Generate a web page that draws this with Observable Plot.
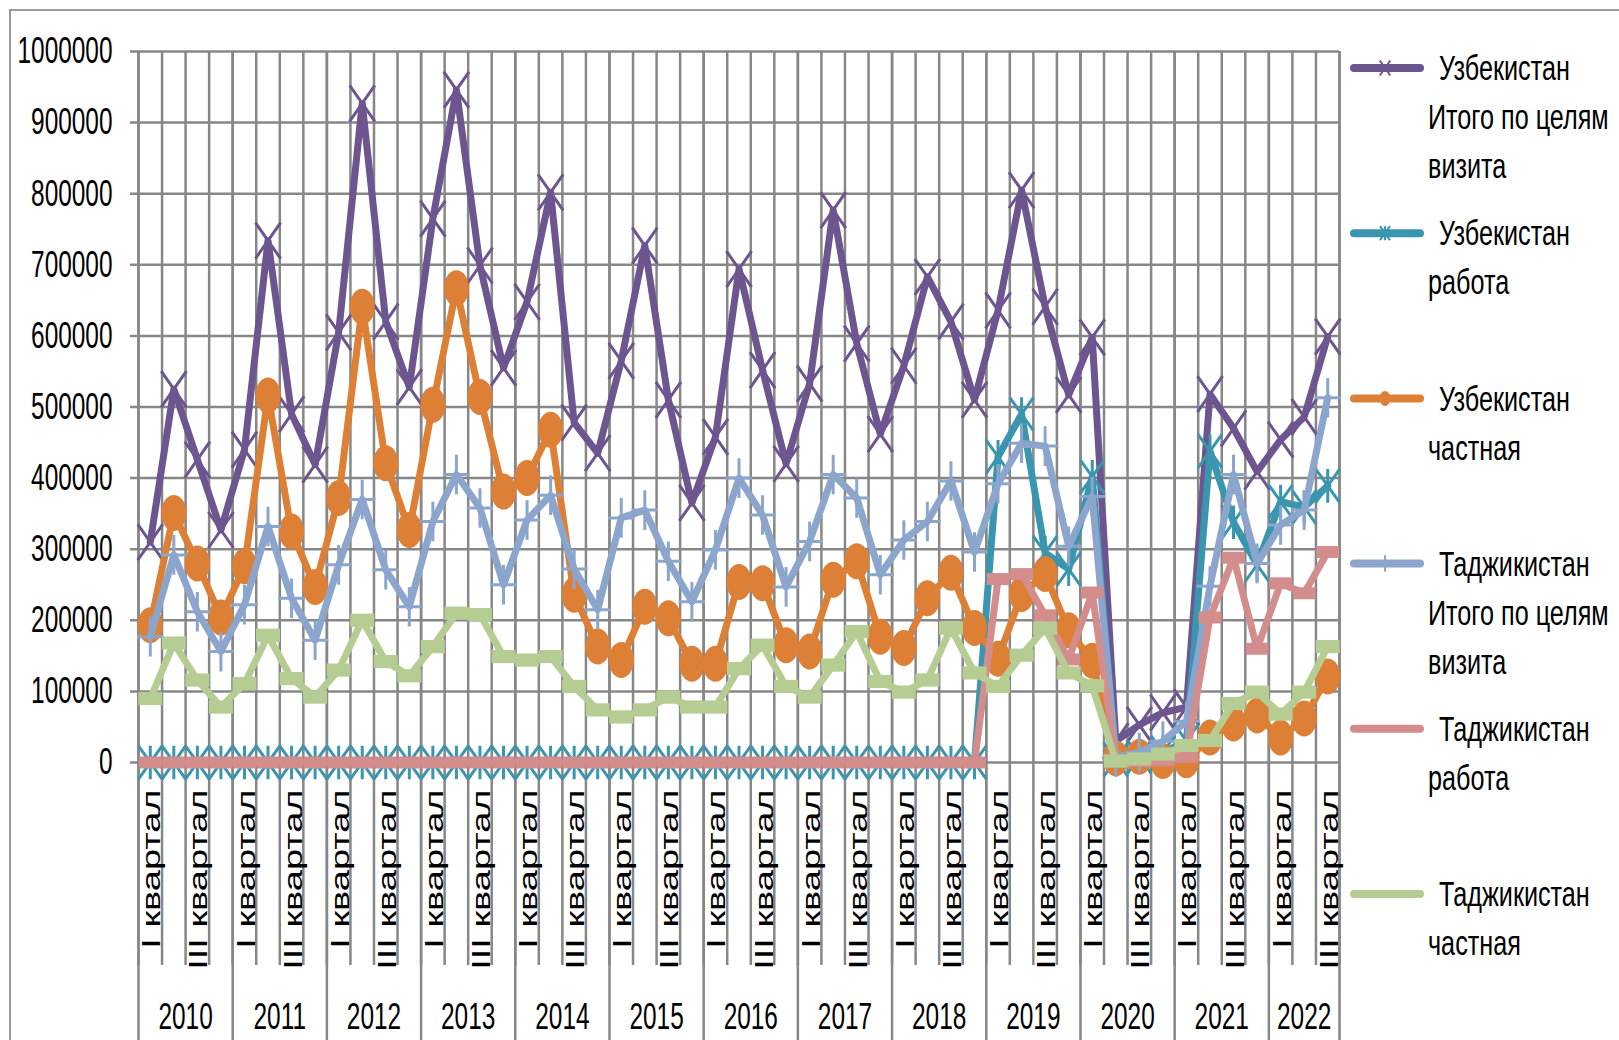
<!DOCTYPE html>
<html><head><meta charset="utf-8">
<script src="https://cdn.jsdelivr.net/npm/d3@7"></script>
<script src="https://cdn.jsdelivr.net/npm/@observablehq/plot@0.6"></script>
<style>
html,body{margin:0;padding:0;background:#fff;}
#wrap{position:relative;width:1619px;height:1040px;overflow:hidden;background:#fff;}
#border{position:absolute;left:9px;top:9px;width:1700px;height:1100px;border-left:2px solid #9a9a9a;border-top:2px solid #9a9a9a;}
#chart{position:absolute;left:0;top:0;}
</style></head><body>
<div id="wrap"><div id="border"></div><div id="chart"></div></div>
<script>
// ---------- data ----------
const years = [2010, 2011, 2012, 2013, 2014, 2015, 2016, 2017, 2018, 2019, 2020, 2021, 2022];
const quarterNames = ["I квартал", "II квартал", "III квартал", "IV квартал"];
const labeledQuarters = ["I квартал", "III квартал"];
const quarterCount = 51; // 2010 Q1 .. 2022 Q3
const yTicks = [0, 100000, 200000, 300000, 400000, 500000, 600000, 700000, 800000, 900000, 1000000];

// values in thousands of people, one per quarter
const uzbTotal = [310, 525, 426, 327, 440, 734, 490, 419, 605, 927,
  620, 528, 765, 946, 699, 555, 648, 802, 478, 435,
  565, 727, 510, 365, 458, 694, 552, 420, 533, 777,
  589, 462, 558, 683, 620, 510, 636, 805, 641, 517,
  598, 30, 53, 70, 78, 518, 470, 409, 454, 486, 599];
const uzbWork = [0, 0, 0, 0, 0, 0, 0, 0, 0, 0,
  0, 0, 0, 0, 0, 0, 0, 0, 0, 0,
  0, 0, 0, 0, 0, 0, 0, 0, 0, 0,
  0, 0, 0, 0, 0, 0, 430, 490, 295, 272,
  402, 4, 8, 14, 30, 438, 338, 278, 367, 359, 389];
const uzbPrivate = [193, 351, 280, 204, 276, 516, 325, 247, 372, 641,
  421, 327, 503, 667, 514, 381, 400, 468, 236, 163,
  144, 219, 203, 139, 139, 254, 252, 165, 156, 257,
  283, 177, 161, 231, 267, 189, 146, 237, 265, 186,
  143, 6, 8, 2, 3, 35, 55, 66, 35, 62, 121];
const tajTotal = [177, 292, 212, 156, 222, 332, 231, 172, 278, 370,
  271, 219, 339, 405, 358, 250, 341, 376, 272, 215,
  344, 355, 283, 226, 299, 400, 348, 247, 311, 405,
  372, 264, 313, 339, 396, 296, 392, 449, 445, 304,
  374, 8, 14, 30, 58, 248, 405, 280, 334, 355, 513];
const tajWork = [0, 0, 0, 0, 0, 0, 0, 0, 0, 0,
  0, 0, 0, 0, 0, 0, 0, 0, 0, 0,
  0, 0, 0, 0, 0, 0, 0, 0, 0, 0,
  0, 0, 0, 0, 0, 0, 258, 265, 207, 145,
  239, 4, 2, 3, 8, 204, 288, 160, 252, 238, 296];
const tajPrivate = [90, 168, 116, 78, 111, 179, 118, 92, 130, 200,
  142, 122, 163, 210, 208, 149, 144, 149, 107, 74,
  64, 74, 92, 78, 78, 132, 165, 107, 92, 137,
  184, 114, 99, 116, 189, 126, 107, 151, 189, 126,
  108, 2, 5, 12, 24, 31, 83, 99, 68, 99, 163];

const seriesNames = [
  ["Узбекистан", "Итого по целям", "визита"],
  ["Узбекистан", "работа"],
  ["Узбекистан", "частная"],
  ["Таджикистан", "Итого по целям", "визита"],
  ["Таджикистан", "работа"],
  ["Таджикистан", "частная"]
];
const seriesColors = ["#6D5590", "#3A96AF", "#DD8036", "#8CA5CD", "#D28D8C", "#B5CD92"];
const seriesValues = [uzbTotal, uzbWork, uzbPrivate, tajTotal, tajWork, tajPrivate];

// ---------- marker symbols ----------
function xSym(kx, ky, withVertical) {
  return {draw(ctx, size) {
    const r = Math.sqrt(size / Math.PI), w = r * kx, h = r * ky;
    ctx.moveTo(-w, -h); ctx.lineTo(w, h);
    ctx.moveTo(-w, h); ctx.lineTo(w, -h);
    if (withVertical) { ctx.moveTo(0, -h); ctx.lineTo(0, h); }
  }};
}
function plusSym(kx, ky) {
  return {draw(ctx, size) {
    const r = Math.sqrt(size / Math.PI), w = r * kx, h = r * ky;
    ctx.moveTo(-w, 0); ctx.lineTo(w, 0);
    ctx.moveTo(0, -h); ctx.lineTo(0, h);
  }};
}
function ellipseSym(kx, ky) {
  return {draw(ctx, size) {
    const r = Math.sqrt(size / Math.PI), rx = r * kx, ry = r * ky, k = 0.5523;
    ctx.moveTo(rx, 0);
    ctx.bezierCurveTo(rx, ry * k, rx * k, ry, 0, ry);
    ctx.bezierCurveTo(-rx * k, ry, -rx, ry * k, -rx, 0);
    ctx.bezierCurveTo(-rx, -ry * k, -rx * k, -ry, 0, -ry);
    ctx.bezierCurveTo(rx * k, -ry, rx, -ry * k, rx, 0);
    ctx.closePath();
  }};
}
function rectSym(kx, ky) {
  return {draw(ctx, size) {
    const r = Math.sqrt(size / Math.PI), w = r * kx, h = r * ky;
    ctx.rect(-w, -h, 2 * w, 2 * h);
  }};
}
const markers = [
  {symbol: xSym(1.05, 1.5, false), filled: false},
  {symbol: xSym(1.0, 1.4, true), filled: false},
  {symbol: ellipseSym(1.05, 1.5), filled: true},
  {symbol: plusSym(1.1, 1.65), filled: false},
  {symbol: rectSym(0.95, 0.5), filled: true},
  {symbol: rectSym(1.0, 0.55), filled: true}
];

// ---------- table ----------
const rows = [];
seriesValues.forEach((vals, s) => {
  vals.forEach((v, i) => rows.push({series: s, pos: i + 0.5, value: v * 1000}));
});
const quarterRows = d3.range(quarterCount).map(i => ({pos: i + 0.5, label: quarterNames[i % 4]}))
  .filter(d => labeledQuarters.includes(d.label));
const quarterBounds = d3.range(quarterCount + 1);
const yearRows = years.map((y, k) => {
  const a = k * 4, b = Math.min(k * 4 + 4, quarterCount);
  return {year: String(y), center: (a + b) / 2, start: a};
});
const yearBounds = yearRows.map(d => d.start).concat([quarterCount]);

const grid = "#878787";
const marks = [
  Plot.ruleY(yTicks, {y: d => d, stroke: grid, strokeWidth: 2.5, insetLeft: -8}),
  Plot.ruleX(quarterBounds, {x: d => d, stroke: grid, strokeWidth: 2.5, insetBottom: -203}),
  Plot.ruleX(yearBounds, {x: d => d, stroke: grid, strokeWidth: 2.5, insetBottom: -290}),
  Plot.text(yTicks, {y: d => d, text: d => String(d), frameAnchor: "left", lineAnchor: "middle", dx: -26, textAnchor: "end", fontSize: 37, fill: "#000"}),
  Plot.text(quarterRows, {x: "pos", text: "label", frameAnchor: "bottom", lineAnchor: "middle", dx: 2, dy: 27, rotate: -90, textAnchor: "end", fontSize: 38, fill: "#000"}),
  Plot.text(yearRows, {x: "center", text: "year", frameAnchor: "bottom", lineAnchor: "middle", dy: 255, fontSize: 37, fill: "#000"})
];
seriesValues.forEach((_, s) => {
  const data = rows.filter(d => d.series === s);
  marks.push(Plot.line(data, {x: "pos", y: "value", stroke: seriesColors[s], strokeWidth: 7, strokeLinejoin: "round", strokeLinecap: "round"}));
  const m = markers[s];
  marks.push(Plot.dot(data, {x: "pos", y: "value", r: 12, symbol: m.symbol,
    fill: m.filled ? seriesColors[s] : "none", stroke: m.filled ? "none" : seriesColors[s], strokeWidth: 3}));
});

const svg = Plot.plot({
  width: 1619, height: 1040,
  marginLeft: 138, marginRight: 280, marginTop: 51, marginBottom: 278,
  x: {type: "linear", domain: [0, quarterCount], axis: null},
  y: {type: "linear", domain: [0, 1000000], axis: null},
  style: {fontFamily: "'Liberation Sans', Arial, sans-serif", background: "transparent", overflow: "visible"},
  marks
});

// condensed text look (narrow, tall glyphs)
d3.select(svg).selectAll("text").each(function() {
  const t = this.getAttribute("transform");
  if (!t) return;
  const sx = t.includes("rotate") ? 0.66 : 0.66;
  this.setAttribute("transform", t.replace(/(translate\([^)]*\))/, `$1 scale(${sx},1)`));
});

// ---------- legend ----------
const lg = d3.select(svg).append("g")
  .attr("font-family", "'Liberation Sans', Arial, sans-serif")
  .attr("font-size", 35).attr("text-anchor", "start");
seriesNames.forEach((lines, s) => {
  const cy = 68 + s * 165.2;
  lg.append("line").attr("x1", 1354).attr("x2", 1420).attr("y1", cy).attr("y2", cy)
    .attr("stroke", seriesColors[s]).attr("stroke-width", 8).attr("stroke-linecap", "round");
  const m = markers[s];
  if (s < 4) {
    lg.append("path").attr("d", d3.symbol(m.symbol, 5 * 5 * Math.PI)())
      .attr("transform", `translate(1385,${cy})`)
      .attr("fill", m.filled ? seriesColors[s] : "none")
      .attr("stroke", m.filled ? "none" : seriesColors[s]).attr("stroke-width", 2);
  }
  lines.forEach((txt, j) => {
    lg.append("text").text(txt)
      .attr("text-anchor", "start")
      .attr("transform", `translate(${j === 0 ? 1439 : 1428},${cy + j * 49}) scale(0.72,1)`)
      .attr("dy", "0.35em").attr("fill", "#000");
  });
});

document.getElementById("chart").appendChild(svg);
</script>
</body></html>
